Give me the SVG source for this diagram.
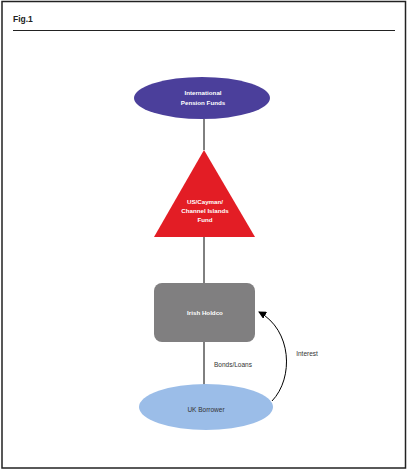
<svg xmlns="http://www.w3.org/2000/svg" width="410" height="471" viewBox="0 0 410 471">
<style>
text{font-family:"Liberation Sans",Arial,sans-serif;font-size:6.5px;text-anchor:middle}
.w{fill:#ffffff;font-weight:bold;font-size:6.2px}
.d{fill:#333333}
.conn{stroke:#000;stroke-width:1;fill:none}
</style>
<defs>
<marker id="ah" markerWidth="8" markerHeight="8" refX="7" refY="4" orient="auto" markerUnits="userSpaceOnUse">
<path d="M0,0 L8,4 L0,8 z" fill="#000"/>
</marker>
</defs>
<rect x="0" y="0" width="410" height="471" fill="#fff"/>
<rect x="2" y="1.5" width="403.5" height="466.5" fill="none" stroke="#222" stroke-width="1.5"/>
<text x="13" y="22" style="font-size:8.5px;font-weight:bold;text-anchor:start" fill="#222">Fig.1</text>
<line x1="13" y1="30.5" x2="395" y2="30.5" stroke="#222" stroke-width="1"/>
<g id="connectors">
<line class="conn" x1="204" y1="119" x2="204" y2="150"/>
<line class="conn" x1="204" y1="237" x2="204" y2="283"/>
<line class="conn" x1="204" y1="342" x2="204" y2="385"/>
<path class="conn" d="M272,401 C294,378 292,330 259,312" marker-end="url(#ah)"/>
<text x="233" y="367" class="d">Bonds/Loans</text>
<text x="307" y="356" class="d">Interest</text>
</g>
<g id="pension">
<ellipse cx="202" cy="98" rx="68" ry="21" fill="#4b3f9b"/>
<text x="203" y="95" class="w">International</text>
<text x="203" y="105" class="w">Pension Funds</text>
</g>
<g id="fund">
<polygon points="204,150 255,237 154,237" fill="#e31d25"/>
<text x="205" y="204" class="w">US/Cayman/</text>
<text x="205" y="213" class="w">Channel Islands</text>
<text x="205" y="222" class="w">Fund</text>
</g>
<g id="holdco">
<rect x="154" y="283" width="101" height="59" rx="8" fill="#807f80"/>
<text x="205" y="315" class="w">Irish Holdco</text>
</g>
<g id="borrower">
<ellipse cx="206" cy="407" rx="67" ry="23" fill="#9bbde8"/>
<text x="206" y="412" class="d">UK Borrower</text>
</g>
</svg>
